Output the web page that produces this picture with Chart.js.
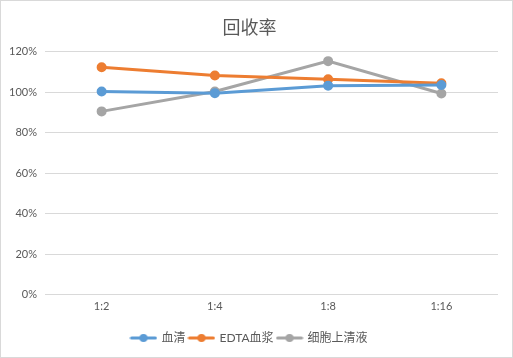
<!DOCTYPE html>
<html><head><meta charset="utf-8">
<script src="https://cdn.jsdelivr.net/npm/chart.js@4"></script>
<style>
html,body{margin:0;padding:0;background:#fff;}
#wrap{width:511px;height:356px;border:1px solid #d9d9d9;position:relative;}
canvas{display:block;}
</style></head>
<body><div id="wrap"><canvas id="c" width="511" height="356"></canvas></div>
<script>
const categories = ['1:2','1:4','1:8','1:16'];
const serum = [100.3, 99.5, 103.2, 103.5];
const edtaPlasma = [112.3, 108.2, 106.4, 104.4];
const cellSupernatant = [90.5, 100.3, 115.3, 99.3];
const seriesNames = ['血清','EDTA血浆','细胞上清液'];
const colors = ['#5B9BD5','#ED7D31','#A5A5A5'];
const yTicks = [0,20,40,60,80,100,120];

const FONT = "Lato, 'Noto Sans CJK SC', sans-serif";

function legendIcon(color){
  const cv = document.createElement('canvas');
  cv.width = 28; cv.height = 10;
  const g = cv.getContext('2d');
  g.strokeStyle = color; g.lineWidth = 3; g.lineCap='round';
  g.beginPath(); g.moveTo(2,5); g.lineTo(26,5); g.stroke();
  g.fillStyle = color; g.beginPath(); g.arc(14,5,4,0,Math.PI*2); g.fill();
  return cv;
}
const icons = colors.map(legendIcon);

const values = [serum, edtaPlasma, cellSupernatant];
new Chart(document.getElementById('c'), {
  type: 'line',
  data: {
    labels: categories,
    datasets: values.map((v,i)=>({
      label: seriesNames[i], data: v,
      borderColor: colors[i], backgroundColor: colors[i],
      borderWidth: 3, pointRadius: 3.5, pointHoverRadius: 3.5,
      pointBackgroundColor: colors[i], pointBorderColor: colors[i],
      tension: 0, fill: false
    }))
  },
  options: {
    responsive: false, animation: false,
    layout: { padding: { left: 0, right: 14, top: 0, bottom: 3 } },
    plugins: {
      title: { display: true, text: '回收率', color: '#595959',
        font: { family: FONT, size: 18, weight: 'normal' },
        padding: { top: 16, bottom: 13 } },
      legend: { position: 'bottom',
        labels: {
          usePointStyle: true, pointStyleWidth: 24, padding: 4,
          color: '#595959', font: { family: FONT, size: 12 },
          generateLabels: (chart) => chart.data.datasets.map((d,i)=>({
            text: d.label, pointStyle: icons[i], fillStyle: colors[i],
            strokeStyle: colors[i], lineWidth: 0, datasetIndex: i, hidden: false,
            fontColor: '#595959'
          }))
        } },
      tooltip: { enabled: false }
    },
    scales: {
      x: {
        offset: true,
        afterFit: (s) => { s.height += 10; },
        grid: { display: false, drawTicks: false, tickLength: 0 }, border: { display: false },
        ticks: { color: '#595959', font: { family: FONT, size: 11 }, padding: 5 }
      },
      y: {
        min: 0, max: 120,
        afterFit: (s) => { s.width = 44; },
        afterBuildTicks: (s) => { s.ticks = yTicks.map(v=>({value:v})); },
        grid: { color: '#d9d9d9', lineWidth: 1, drawTicks: false },
        border: { display: false },
        ticks: { color: '#595959', font: { family: FONT, size: 11 }, padding: 8,
          callback: (v) => v + '%' }
      }
    }
  }
});
</script></body></html>
